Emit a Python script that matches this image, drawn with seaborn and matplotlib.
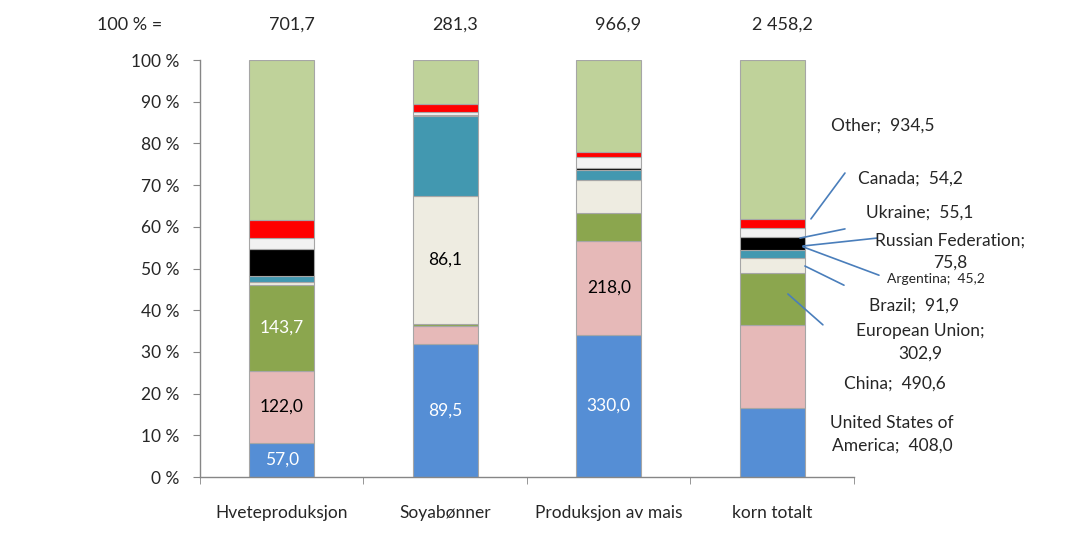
import matplotlib
matplotlib.use("Agg")
import matplotlib.pyplot as plt
import matplotlib.transforms as mtransforms
from matplotlib.ticker import FuncFormatter, FixedLocator
import numpy as np
import seaborn as sns

# --- data (mill. tonn) ---
categories = ["Hveteproduksjon", "Soyabønner", "Produksjon av mais", "korn totalt"]
totals = [701.7, 281.3, 966.9, 2458.2]

series = ["United States of America", "China", "European Union", "Brazil", "Argentina",
          "Russian Federation", "Ukraine", "Canada", "Other"]
usa = [57.0, 89.5, 330.0, 408.0]
china = [122.0, 12.5, 218.0, 490.6]
eu = [143.7, 1.5, 65.0, 302.9]
brazil = [5.0, 86.1, 75.0, 91.9]
argentina = [10.0, 54.0, 23.0, 45.2]
russia = [45.5, 0.5, 5.0, 75.8]
ukraine = [18.5, 2.0, 25.0, 55.1]
canada = [30.3, 5.3, 12.0, 54.2]
other = [269.7, 29.9, 213.9, 934.5]
values = [usa, china, eu, brazil, argentina, russia, ukraine, canada, other]

colors = ["#558ED5", "#E6B9B8", "#8BA64E", "#EEECE1", "#4298B0",
          "#000000", "#F2F2F2", "#FF0000", "#BFD29A"]


def fmt(v):
    return f"{v:,.1f}".replace(",", " ").replace(".", ",")


sns.set_style("white")
plt.rcParams["font.family"] = ["Lato", "DejaVu Sans"]

fig = plt.figure(figsize=(10.77, 5.33), dpi=100)
ax = fig.add_axes([0.1857, 0.105, 0.6072, 0.7824])

tot = np.array(totals)
bottom = np.zeros(len(categories))
cum = {}
for name, vals, col in zip(series, values, colors):
    pct = np.array(vals) / tot * 100
    sns.barplot(x=categories, y=pct, bottom=bottom.copy(), color=col, saturation=1,
                width=0.4, edgecolor="#A6A6A6", linewidth=0.8, errorbar=None,
                order=categories, ax=ax)
    cum[name] = (bottom.copy(), bottom + pct)
    bottom = bottom + pct

# values written inside bars
inside = [("United States of America", 0, "white"), ("China", 0, "black"),
          ("European Union", 0, "white"), ("United States of America", 1, "white"),
          ("Brazil", 1, "black"), ("United States of America", 2, "white"),
          ("China", 2, "black")]
for name, i, tc in inside:
    lo, hi = cum[name]
    v = values[series.index(name)][i]
    ax.text(i, (lo[i] + hi[i]) / 2, fmt(v), ha="center", va="center",
            color=tc, fontsize=12.5)

# labels with leader lines for "korn totalt"
lc = "#4A7EBB"
ann = [
    ("Other;  " + fmt(other[3]), (3.677, 84.2), None, None, 12.5),
    ("Canada;  " + fmt(canada[3]), (3.843, 71.5), (3.237, 61.9), (3.445, 72.9), 12.5),
    ("Ukraine;  " + fmt(ukraine[3]), (3.904, 63.3), (3.170, 57.3), (3.445, 59.5), 12.5),
    ("Russian Federation;\n" + fmt(russia[3]), (4.087, 54.0), (3.188, 55.4), (3.641, 57.3), 12.5),
    ("Argentina;  " + fmt(argentina[3]), (4.0, 47.5), (3.188, 55.2), (3.653, 48.4), 10),
    ("Brazil;  " + fmt(brazil[3]), (3.867, 41.2), (3.20, 50.6), (3.439, 46.0), 12.5),
    ("European Union;\n" + fmt(eu[3]), (3.904, 32.4), (3.096, 43.9), (3.31, 36.5), 12.5),
    ("China;  " + fmt(china[3]), (3.751, 22.5), None, None, 12.5),
    ("United States of\nAmerica;  " + fmt(usa[3]), (3.732, 10.3), None, None, 12.5),
]
for txt, pos, p0, p1, fs in ann:
    ax.text(pos[0], pos[1], txt, ha="center", va="center", fontsize=fs,
            linespacing=1.5, clip_on=False)
    if p0 is not None:
        ax.plot([p0[0], p1[0]], [p0[1], p1[1]], color=lc, lw=1.2, clip_on=False)

# totals row
trans = mtransforms.blended_transform_factory(ax.transData, fig.transFigure)
for i, t in enumerate(totals):
    ax.text(i + 0.06, 0.953, fmt(t), transform=trans, ha="center", va="center", fontsize=13)
fig.text(0.12, 0.953, "100 % =", ha="center", va="center", fontsize=13)

# axes styling
ax.set_xlim(-0.5, 3.5)
ax.set_ylim(0, 100)
ax.yaxis.set_major_locator(FixedLocator(np.arange(0, 101, 10)))
ax.yaxis.set_major_formatter(FuncFormatter(lambda v, p: f"{int(v)} %"))
ax.set_xlabel("")
ax.set_ylabel("")
ax.xaxis.set_minor_locator(FixedLocator(np.arange(-0.5, 3.6, 1)))
ax.tick_params(axis="x", which="major", length=0, pad=20, labelsize=12.5)
ax.tick_params(axis="x", which="minor", length=5, color="#868686", direction="out", bottom=True)
ax.tick_params(axis="y", length=5, color="#868686", direction="out", left=True, pad=10, labelsize=12.5)
for s in ["top", "right"]:
    ax.spines[s].set_visible(False)
for s in ["left", "bottom"]:
    ax.spines[s].set_color("#868686")
    ax.spines[s].set_linewidth(1)

fig.savefig("out.png", dpi=100)
